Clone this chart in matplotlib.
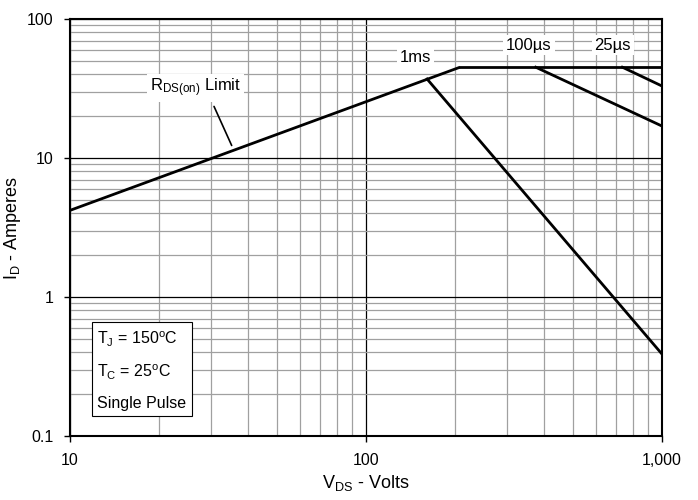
import matplotlib.pyplot as plt
from matplotlib.ticker import FixedLocator, FixedFormatter, NullFormatter
import numpy as np

plt.rcParams['font.family'] = ['Liberation Sans', 'DejaVu Sans']
plt.rcParams['mathtext.fontset'] = 'custom'
plt.rcParams['mathtext.rm'] = 'Liberation Sans'

# safe operating area boundaries (V, A)
rds_v = [10, 208]
rds_i = [4.2, 45]
limit_v = [208, 1000, 1000]
limit_i = [45, 45, 0.1]
ms1_v = [161, 1000]
ms1_i = [37, 0.39]
us100_v = [375, 1000]
us100_i = [45, 17]
us25_v = [736, 1000]
us25_i = [45, 33]

xticks = [10, 100, 1000]
xlabels = ['10', '100', '1,000']
yticks = [0.1, 1, 10, 100]
ylabels = ['0.1', '1', '10', '100']

fig = plt.figure(figsize=(6.98, 5.0), dpi=100)
ax = fig.add_axes([0.1003, 0.128, 0.8478, 0.834])
ax.set_xscale('log')
ax.set_yscale('log')
ax.set_xlim(10, 1000)
ax.set_ylim(0.1, 100)

ax.grid(True, which='minor', color='#a0a0a0', lw=0.9)
ax.grid(True, which='major', color='black', lw=0.9)
ax.set_axisbelow(True)

lw = 2.0
ax.plot(rds_v, rds_i, 'k-', lw=lw, solid_capstyle='butt')
ax.plot(limit_v, limit_i, 'k-', lw=lw)
ax.plot(ms1_v, ms1_i, 'k-', lw=lw)
ax.plot(us100_v, us100_i, 'k-', lw=lw)
ax.plot(us25_v, us25_i, 'k-', lw=lw)

ax.xaxis.set_major_locator(FixedLocator(xticks))
ax.xaxis.set_major_formatter(FixedFormatter(xlabels))
ax.yaxis.set_major_locator(FixedLocator(yticks))
ax.yaxis.set_major_formatter(FixedFormatter(ylabels))
ax.xaxis.set_minor_formatter(NullFormatter())
ax.yaxis.set_minor_formatter(NullFormatter())
ax.tick_params(which='major', length=4, width=1, labelsize=11.5, pad=8)
ax.tick_params(which='minor', length=0)
for s in ax.spines.values():
    s.set_linewidth(1.5)

box = dict(facecolor='white', edgecolor='none', pad=2)
ax.text(26.5, 32, r'$\mathregular{R_{DS(on)}}$ Limit', fontsize=12, ha='center', va='center', bbox=box)
ax.annotate('', xy=(35.5, 11.8), xytext=(30.4, 24.5),
            arrowprops=dict(arrowstyle='-', color='black', lw=1.2))
ax.text(147, 53, '1ms', fontsize=12, ha='center', va='center', bbox=box)
ax.text(356, 65, '100µs', fontsize=12, ha='center', va='center', bbox=box)
ax.text(682, 65, '25µs', fontsize=12, ha='center', va='center', bbox=box)

ax.text(0.046, 0.158, '$\\mathregular{T_J}$ = 150$^\\mathregular{o}$C\n\n'
        '$\\mathregular{T_C}$ = 25$^\\mathregular{o}$C\n\nSingle Pulse',
        transform=ax.transAxes, fontsize=11.5, ha='left', va='center', linespacing=0.95,
        bbox=dict(facecolor='white', edgecolor='black', lw=0.8, pad=4))

ax.set_xlabel(r'$\mathregular{V_{DS}}$ - Volts', fontsize=13, labelpad=4)
ax.set_ylabel(r'$\mathregular{I_D}$ - Amperes', fontsize=13)
ax.yaxis.set_label_coords(-0.08, 0.5)

fig.savefig('out.png', dpi=100)
